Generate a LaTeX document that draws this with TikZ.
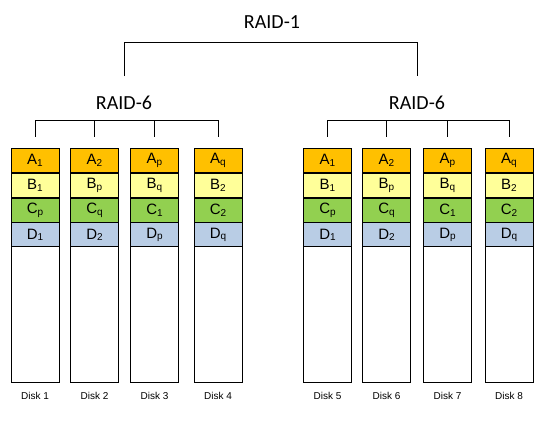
\documentclass[tikz,border=0pt]{standalone}
\usepackage{fontspec}
\setmainfont{Liberation Sans}
\newfontfamily\groupfont{Carlito}
\usepackage{xcolor}
\usepackage{tikz}
\usetikzlibrary{positioning}

\definecolor{slotA}{HTML}{FFC000}
\definecolor{slotB}{HTML}{FFFF99}
\definecolor{slotC}{HTML}{92D050}
\definecolor{slotD}{HTML}{B9CDE5}
\newcommand{\sbs}[1]{\raisebox{-1.7pt}{\fontsize{10}{10}\selectfont #1}}

\begin{document}
\begin{tikzpicture}[x = 1pt, y = 1pt, line width = 0.8pt,
    disk/.style = {draw, minimum width = 48pt, minimum height = 234pt, inner sep = 0pt, anchor = north},
    slot/.style = {draw, minimum width = 48pt, minimum height = 24pt, inner sep = 0pt, anchor = north, font = \fontsize{15}{15}\selectfont},
    disklabel/.style = {inner sep = 0pt, font = \fontsize{10}{12}\selectfont},
    grouplabel/.style = {inner sep = 0pt, font = \groupfont\fontsize{20}{24}\selectfont}]
        \useasboundingbox (0, 0) rectangle (550, 421);
        \node (raid1) at (272, 398.7) [grouplabel] {RAID-1};
        \node (raidL) at (124, 317.7) [grouplabel] {RAID-6};
        \node (raidR) at (417, 317.7) [grouplabel] {RAID-6};
        \node (disk1) at (35, 273) [disk] {};
        \node (disk2) at (94.5, 273) [disk] {};
        \node (disk3) at (154.5, 273) [disk] {};
        \node (disk4) at (218, 273) [disk] {};
        \node (disk5) at (327.5, 273) [disk] {};
        \node (disk6) at (386.5, 273) [disk] {};
        \node (disk7) at (447.5, 273) [disk] {};
        \node (disk8) at (509, 273) [disk] {};
        \node (a1) at (disk1.north) [slot, fill = slotA] {A\sbs{1}};
        \node (b1) [slot, fill = slotB, below = 0pt of a1] {B\sbs{1}};
        \node (c1) [slot, fill = slotC, below = 0pt of b1] {C\sbs{p}};
        \node (d1) [slot, fill = slotD, below = 0pt of c1] {D\sbs{1}};
        \node (a2) at (disk2.north) [slot, fill = slotA] {A\sbs{2}};
        \node (b2) [slot, fill = slotB, below = 0pt of a2] {B\sbs{p}};
        \node (c2) [slot, fill = slotC, below = 0pt of b2] {C\sbs{q}};
        \node (d2) [slot, fill = slotD, below = 0pt of c2] {D\sbs{2}};
        \node (a3) at (disk3.north) [slot, fill = slotA] {A\sbs{p}};
        \node (b3) [slot, fill = slotB, below = 0pt of a3] {B\sbs{q}};
        \node (c3) [slot, fill = slotC, below = 0pt of b3] {C\sbs{1}};
        \node (d3) [slot, fill = slotD, below = 0pt of c3] {D\sbs{p}};
        \node (a4) at (disk4.north) [slot, fill = slotA] {A\sbs{q}};
        \node (b4) [slot, fill = slotB, below = 0pt of a4] {B\sbs{2}};
        \node (c4) [slot, fill = slotC, below = 0pt of b4] {C\sbs{2}};
        \node (d4) [slot, fill = slotD, below = 0pt of c4] {D\sbs{q}};
        \node (a5) at (disk5.north) [slot, fill = slotA] {A\sbs{1}};
        \node (b5) [slot, fill = slotB, below = 0pt of a5] {B\sbs{1}};
        \node (c5) [slot, fill = slotC, below = 0pt of b5] {C\sbs{p}};
        \node (d5) [slot, fill = slotD, below = 0pt of c5] {D\sbs{1}};
        \node (a6) at (disk6.north) [slot, fill = slotA] {A\sbs{2}};
        \node (b6) [slot, fill = slotB, below = 0pt of a6] {B\sbs{p}};
        \node (c6) [slot, fill = slotC, below = 0pt of b6] {C\sbs{q}};
        \node (d6) [slot, fill = slotD, below = 0pt of c6] {D\sbs{2}};
        \node (a7) at (disk7.north) [slot, fill = slotA] {A\sbs{p}};
        \node (b7) [slot, fill = slotB, below = 0pt of a7] {B\sbs{q}};
        \node (c7) [slot, fill = slotC, below = 0pt of b7] {C\sbs{1}};
        \node (d7) [slot, fill = slotD, below = 0pt of c7] {D\sbs{p}};
        \node (a8) at (disk8.north) [slot, fill = slotA] {A\sbs{q}};
        \node (b8) [slot, fill = slotB, below = 0pt of a8] {B\sbs{2}};
        \node (c8) [slot, fill = slotC, below = 0pt of b8] {C\sbs{2}};
        \node (d8) [slot, fill = slotD, below = 0pt of c8] {D\sbs{q}};
        \node (lab1) [disklabel, below = 9pt of disk1] {Disk 1};
        \node (lab2) [disklabel, below = 9pt of disk2] {Disk 2};
        \node (lab3) [disklabel, below = 9pt of disk3] {Disk 3};
        \node (lab4) [disklabel, below = 9pt of disk4] {Disk 4};
        \node (lab5) [disklabel, below = 9pt of disk5] {Disk 5};
        \node (lab6) [disklabel, below = 9pt of disk6] {Disk 6};
        \node (lab7) [disklabel, below = 9pt of disk7] {Disk 7};
        \node (lab8) [disklabel, below = 9pt of disk8] {Disk 8};
        \coordinate (topbar) at ([yshift = -13pt] raid1.south);
        \coordinate (barL) at ([yshift = -10pt] raidL.south);
        \coordinate (barR) at ([yshift = -10pt] raidR.south);
        \draw [] ([yshift = 20pt] raidL.north) |- (topbar) -| ([yshift = 20pt] raidR.north);
        \draw [] ([yshift = 11pt] disk1.north) |- (barL) -| ([yshift = 11pt] disk4.north);
        \draw [] ([yshift = 11pt] disk2.north) edge (disk2 |- barL);
        \draw [] ([yshift = 11pt] disk3.north) edge (disk3 |- barL);
        \draw [] ([yshift = 11pt] disk5.north) |- (barR) -| ([yshift = 11pt] disk8.north);
        \draw [] ([yshift = 11pt] disk6.north) edge (disk6 |- barR);
        \draw [] ([yshift = 11pt] disk7.north) edge (disk7 |- barR);
    \end{tikzpicture}
\end{document}
